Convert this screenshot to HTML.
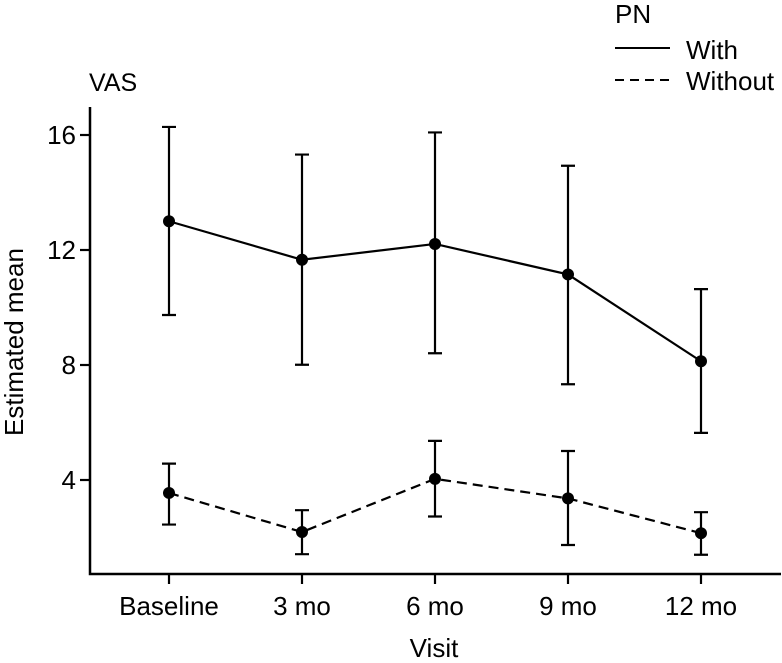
<!DOCTYPE html>
<html><head><meta charset="utf-8"><style>
html,body{margin:0;padding:0;background:#fff;}
svg{display:block;font-family:"Liberation Sans",Arial,sans-serif;}
</style></head><body>
<svg id="chart" width="782" height="663" viewBox="0 0 782 663">
<g id="axes"></g><g id="marks"></g>
<text x="615" y="23" font-size="26">PN</text>
<line x1="615" y1="48" x2="670" y2="48" stroke="#000" stroke-width="2"/>
<text x="686" y="59" font-size="26">With</text>
<line x1="615" y1="80" x2="670" y2="80" stroke="#000" stroke-width="2" stroke-dasharray="9,6"/>
<text x="686" y="90" font-size="26">Without</text>
<text x="89" y="91" font-size="25">VAS</text>
<text x="0" y="0" font-size="26" text-anchor="middle" transform="translate(23,342) rotate(-90)">Estimated mean</text>
<text x="434" y="657" font-size="26" text-anchor="middle">Visit</text>
</svg>
<script>
const categories=["Baseline","3 mo","6 mo","9 mo","12 mo"];
const withMean=[13.0,11.66,12.21,11.15,8.13];
const withUpper=[16.28,15.32,16.09,14.93,10.64];
const withLower=[9.74,8.01,8.41,7.33,5.64];
const withoutMean=[3.55,2.19,4.04,3.36,2.15];
const withoutUpper=[4.57,2.95,5.36,5.01,2.88];
const withoutLower=[2.45,1.42,2.73,1.74,1.40];
const yTicks=[4,8,12,16];

const NS="http://www.w3.org/2000/svg";
const yS=v=>595-v*28.75;
const xS=i=>169+i*133;
const axes=document.getElementById('axes'), marks=document.getElementById('marks');
function mk(tag,attrs,parent){const e=document.createElementNS(NS,tag);for(const k in attrs)e.setAttribute(k,attrs[k]);parent.appendChild(e);return e;}
let e=mk('path',{d:'M90,107 V574 H781',fill:'none',stroke:'#000','stroke-width':2.5},axes);


yTicks.forEach(t=>{
  let l=mk('line',{x1:80,x2:90,y1:yS(t),y2:yS(t),stroke:'#000','stroke-width':2.2},axes);
  
  
  let tx=mk('text',{x:76,y:yS(t)+9,'font-size':26,'text-anchor':'end'},axes);tx.textContent=t;
  
  
});
categories.forEach((c,i)=>{
  let l=mk('line',{x1:xS(i),x2:xS(i),y1:574,y2:584,stroke:'#000','stroke-width':2.2},axes);
  
  
  let tx=mk('text',{x:xS(i),y:615,'font-size':26,'text-anchor':'middle'},axes);tx.textContent=c;
  
  
});
function series(mean,up,lo,dash,name){
  const pts=mean.map((v,i)=>xS(i)+','+yS(v)).join(' ');
  let pl=mk('polyline',{points:pts,fill:'none',stroke:'#000','stroke-width':2.2,'stroke-dasharray':dash},marks);
  
  
  mean.forEach((v,i)=>{
    const x=xS(i);
    let eb=mk('path',{d:`M${x-7},${yS(up[i])}H${x+7}M${x},${yS(up[i])}V${yS(lo[i])}M${x-7},${yS(lo[i])}H${x+7}`,fill:'none',stroke:'#000','stroke-width':2.2},marks);
    
    
    let c=mk('circle',{cx:x,cy:yS(v),r:6,fill:'#000'},marks);
    
    
  });
}
series(withMean,withUpper,withLower,'none','with-pn');
series(withoutMean,withoutUpper,withoutLower,'10,6','without-pn');
</script>
</body></html>
